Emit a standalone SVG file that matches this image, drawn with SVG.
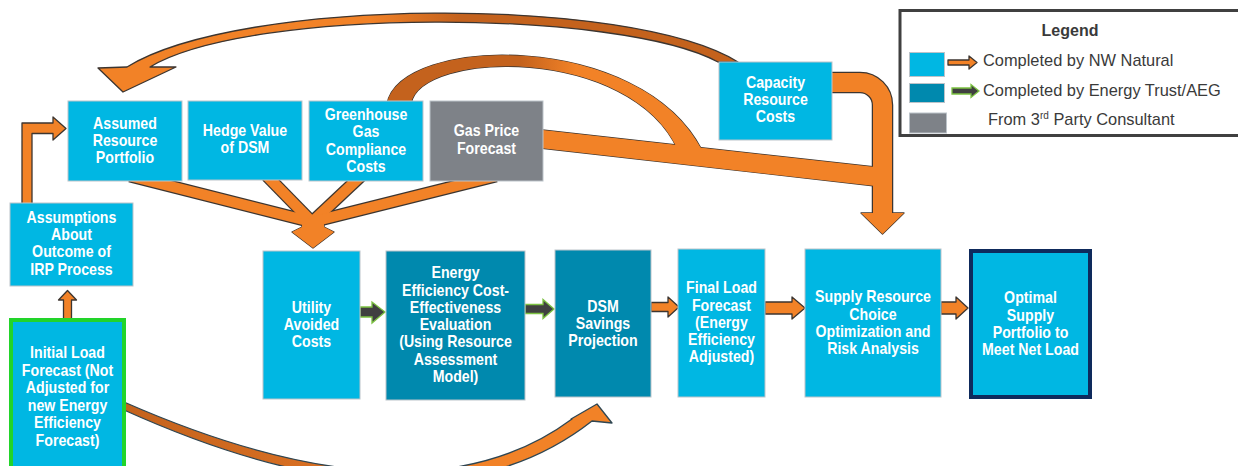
<svg xmlns="http://www.w3.org/2000/svg" width="1238" height="466" viewBox="0 0 1238 466">
<style>
.lb{fill:#00B7E3;stroke:#BCC3C9;stroke-width:1}
.tl{fill:#0089AE;stroke:#BCC3C9;stroke-width:1}
.gr{fill:#7E8288;stroke:#BCC3C9;stroke-width:1}
.t{fill:#FFFFFF;font-family:"Liberation Sans Narrow","Arial Narrow","Liberation Sans",sans-serif;font-weight:bold;font-size:16.5px;text-anchor:middle}
.lt{fill:#3A3A3A;font-family:"Liberation Sans",Arial,sans-serif;font-size:16.4px}
.ol{stroke:#3C3530;stroke-width:1.3;stroke-linejoin:round}
.or{fill:#F28227}
.ls{fill:none;stroke:#3C3530;stroke-width:13}
.fs{fill:none;stroke:#F28227;stroke-width:10.5}
.dk{fill:#404040;stroke:#7CC242;stroke-width:1.3}
</style>
<defs>
<linearGradient id="gBig" gradientUnits="userSpaceOnUse" x1="100" y1="0" x2="740" y2="0">
<stop offset="0" stop-color="#F28227"/><stop offset="0.42" stop-color="#F28227"/><stop offset="0.56" stop-color="#C4621D"/><stop offset="1" stop-color="#C4621D"/>
</linearGradient>
<linearGradient id="gGhg" gradientUnits="userSpaceOnUse" x1="390" y1="0" x2="700" y2="0">
<stop offset="0" stop-color="#C4621D"/><stop offset="0.42" stop-color="#C4621D"/><stop offset="0.6" stop-color="#F28227"/><stop offset="1" stop-color="#F28227"/>
</linearGradient>
<linearGradient id="gBot" gradientUnits="userSpaceOnUse" x1="124" y1="0" x2="600" y2="0">
<stop offset="0" stop-color="#C4621D"/><stop offset="0.4" stop-color="#D86F22"/><stop offset="0.7" stop-color="#F28227"/><stop offset="1" stop-color="#F28227"/>
</linearGradient>
<path id="ghgArc" d="M387,104 C400,35 640,30 702,150 L678,150 C630,45 420,50 411,104 Z"/>
<polygon id="gasBand" points="540,129.7 884,168 884,187 540,148"/>
<path id="capElbow" d="M828,82.5 H860 A22.5,22.5 0 0 1 882.5,105 V215"/>
<polygon id="capHead" points="861,213 904,213 882.5,234"/>
<line id="s1" x1="130" y1="176" x2="312" y2="222"/>
<line id="s2" x1="267" y1="176" x2="312" y2="222"/>
<line id="s3" x1="361" y1="176" x2="312" y2="222"/>
<line id="s4" x1="496" y1="176" x2="312" y2="222"/>
<polygon id="uHead" points="302,219 302,227 292,232 313,248 334,232 324,227 324,219"/>
</defs>

<g id="connectors">
<path d="M738,62 C630,-5 240,-3 127,67 L98,68 L123,92 L176,67 L150,67 C250,7 620,9 718,62 Z" fill="url(#gBig)" class="ol"/>
<use href="#ghgArc" class="ol" fill="url(#gGhg)"/>
<use href="#gasBand" class="ol or"/>
<use href="#capElbow" fill="none" stroke="#3C3530" stroke-width="21.5"/>
<use href="#capHead" class="ol or"/>
<use href="#gasBand" class="or"/>
<use href="#ghgArc" fill="url(#gGhg)"/>
<use href="#capElbow" fill="none" stroke="#F28227" stroke-width="19"/>
<use href="#capHead" class="or"/>
<use href="#s1" class="ls"/><use href="#s2" class="ls"/><use href="#s3" class="ls"/><use href="#s4" class="ls"/>
<use href="#uHead" class="ol or"/>
<use href="#s1" class="fs"/><use href="#s2" class="fs"/><use href="#s3" class="fs"/><use href="#s4" class="fs"/>
<use href="#uHead" class="or"/>
<polygon points="22,206 22,123 53,123 53,117 66,128.5 53,140 53,133.5 32,133.5 32,206" class="ol or"/>
<polygon points="63.5,321 63.5,300 58.5,300 67.5,290.5 76.5,300 71.5,300 71.5,321" class="ol or"/>
<path d="M124,402 Q420,532 572,419 L571,419 L597,404 L612,423 L592,421 Q430,548 124,410 Z" fill="url(#gBot)" stroke="#2F4652" stroke-width="1.3" stroke-linejoin="round"/>
<polygon points="360,307 372,307 372,302 385,312 372,323 372,317 360,317" class="dk"/>
<polygon points="525,304.5 543,304.5 543,299.5 554,309 543,318.5 543,313.5 525,313.5" class="dk"/>
<polygon points="651,302.5 668,302.5 668,297 679,307 668,317 668,311.5 651,311.5" class="ol or"/>
<polygon points="765,302 792,302 792,297 805,308 792,319 792,314 765,314" class="ol or"/>
<polygon points="941,302 956,302 956,297 968,308 956,319 956,314 941,314" class="ol or"/>
</g>

<g id="n-assumed">
<rect x="68" y="101" width="114" height="80" class="lb"/>
<text class="t" transform="matrix(0.86 0 0 1 125 0)"><tspan x="0" y="129">Assumed</tspan><tspan x="0" y="146">Resource</tspan><tspan x="0" y="163">Portfolio</tspan></text>
</g>
<g id="n-hedge">
<rect x="188" y="101" width="114" height="79" class="lb"/>
<text class="t" transform="matrix(0.86 0 0 1 245 0)"><tspan x="0" y="136">Hedge Value</tspan><tspan x="0" y="153.5">of DSM</tspan></text>
</g>
<g id="n-ghg">
<rect x="309" y="101" width="114" height="80" class="lb"/>
<text class="t" transform="matrix(0.86 0 0 1 366 0)"><tspan x="0" y="120">Greenhouse</tspan><tspan x="0" y="137.5">Gas</tspan><tspan x="0" y="155">Compliance</tspan><tspan x="0" y="172.5">Costs</tspan></text>
</g>
<g id="n-gas">
<rect x="430" y="101" width="113" height="80" class="gr"/>
<text class="t" transform="matrix(0.86 0 0 1 486.5 0)"><tspan x="0" y="136">Gas Price</tspan><tspan x="0" y="154">Forecast</tspan></text>
</g>
<g id="n-capacity">
<rect x="719" y="62" width="113" height="78" class="lb"/>
<text class="t" transform="matrix(0.86 0 0 1 775.5 0)"><tspan x="0" y="88">Capacity</tspan><tspan x="0" y="105.5">Resource</tspan><tspan x="0" y="122.5">Costs</tspan></text>
</g>
<g id="n-assumptions">
<rect x="10" y="203" width="123" height="83" class="lb"/>
<text class="t" transform="matrix(0.86 0 0 1 71.5 0)"><tspan x="0" y="223">Assumptions</tspan><tspan x="0" y="240.5">About</tspan><tspan x="0" y="257.5">Outcome of</tspan><tspan x="0" y="275">IRP Process</tspan></text>
</g>
<g id="n-initial">
<rect x="11" y="320" width="113" height="152" fill="#00B7E3" stroke="#22D42A" stroke-width="4"/>
<text class="t" transform="matrix(0.86 0 0 1 67.5 0)"><tspan x="0" y="358.5">Initial Load</tspan><tspan x="0" y="376">Forecast (Not</tspan><tspan x="0" y="393.5">Adjusted for</tspan><tspan x="0" y="411">new Energy</tspan><tspan x="0" y="428.5">Efficiency</tspan><tspan x="0" y="446">Forecast)</tspan></text>
</g>
<g id="n-utility">
<rect x="263" y="251" width="97" height="148" class="lb"/>
<text class="t" transform="matrix(0.86 0 0 1 311.5 0)"><tspan x="0" y="313.5">Utility</tspan><tspan x="0" y="330.5">Avoided</tspan><tspan x="0" y="347.5">Costs</tspan></text>
</g>
<g id="n-ee">
<rect x="386" y="251" width="139" height="149" class="tl"/>
<text class="t" transform="matrix(0.86 0 0 1 455.5 0)"><tspan x="0" y="278.5">Energy</tspan><tspan x="0" y="296">Efficiency Cost-</tspan><tspan x="0" y="313">Effectiveness</tspan><tspan x="0" y="330.5">Evaluation</tspan><tspan x="0" y="347.5">(Using Resource</tspan><tspan x="0" y="365">Assessment</tspan><tspan x="0" y="382">Model)</tspan></text>
</g>
<g id="n-dsm">
<rect x="555" y="250" width="96" height="147" class="tl"/>
<text class="t" transform="matrix(0.86 0 0 1 603 0)"><tspan x="0" y="312.5">DSM</tspan><tspan x="0" y="329.5">Savings</tspan><tspan x="0" y="346.5">Projection</tspan></text>
</g>
<g id="n-final">
<rect x="678" y="249" width="87" height="148" class="lb"/>
<text class="t" transform="matrix(0.86 0 0 1 721.5 0)"><tspan x="0" y="293.5">Final Load</tspan><tspan x="0" y="311">Forecast</tspan><tspan x="0" y="328">(Energy</tspan><tspan x="0" y="345.5">Efficiency</tspan><tspan x="0" y="362.5">Adjusted)</tspan></text>
</g>
<g id="n-supply">
<rect x="805" y="249" width="136" height="148" class="lb"/>
<text class="t" transform="matrix(0.86 0 0 1 873 0)"><tspan x="0" y="302.5">Supply Resource</tspan><tspan x="0" y="320">Choice</tspan><tspan x="0" y="337">Optimization and</tspan><tspan x="0" y="354.5">Risk Analysis</tspan></text>
</g>
<g id="n-optimal">
<rect x="971" y="251" width="119" height="146" fill="#00B7E3" stroke="#0E2A5C" stroke-width="4"/>
<text class="t" transform="matrix(0.86 0 0 1 1030.5 0)"><tspan x="0" y="303.5">Optimal</tspan><tspan x="0" y="321">Supply</tspan><tspan x="0" y="338">Portfolio to</tspan><tspan x="0" y="355.5">Meet Net Load</tspan></text>
</g>

<g id="legend">
<rect x="900" y="10.5" width="345" height="125" fill="#FFFFFF" stroke="#404040" stroke-width="3"/>
<text x="1070" y="36" text-anchor="middle" font-family="'Liberation Sans',Arial,sans-serif" font-weight="bold" font-size="16px" fill="#3A3A3A">Legend</text>
<rect x="909.5" y="52.5" width="35" height="24" fill="#00B7E3" stroke="#BCC3C9"/>
<polygon points="948,60 969,60 969,56 977,62.5 969,69 969,65 948,65" class="ol or" stroke-width="0.9"/>
<text x="983" y="66" class="lt">Completed by NW Natural</text>
<rect x="909.5" y="83.5" width="35" height="19" fill="#0089AE" stroke="#BCC3C9"/>
<polygon points="952,88 971,88 971,84.5 979,91 971,97.5 971,94 952,94" class="dk"/>
<text x="983" y="96" class="lt">Completed by Energy Trust/AEG</text>
<rect x="909.5" y="113" width="37" height="20" fill="#7E8288" stroke="#BCC3C9"/>
<text x="988" y="124.5" class="lt">From 3<tspan font-size="10px" dy="-6">rd</tspan><tspan dy="6"> Party Consultant</tspan></text>
</g>
</svg>
